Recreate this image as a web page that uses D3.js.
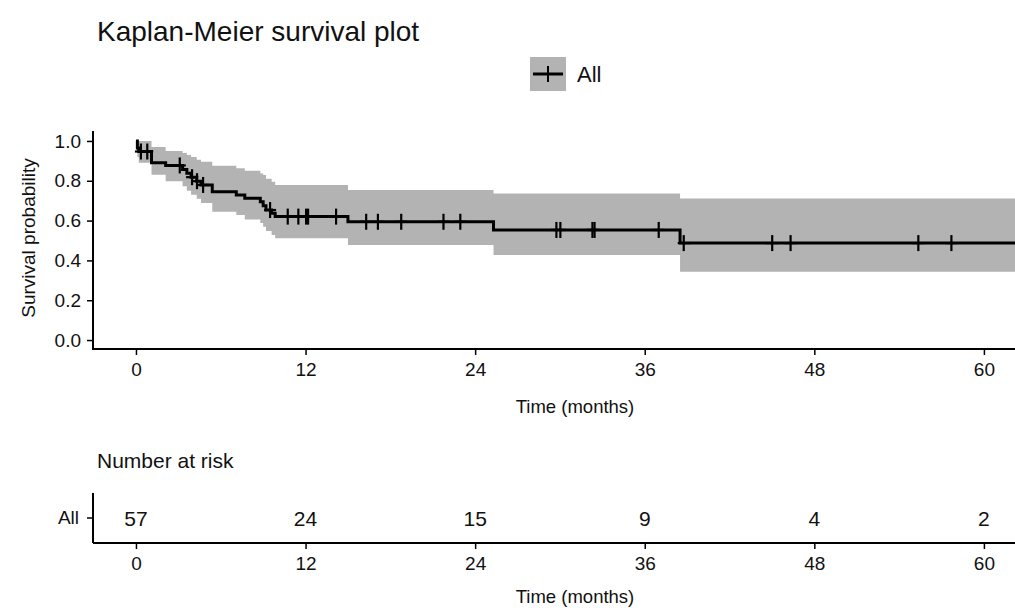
<!DOCTYPE html>
<html>
<head>
<meta charset="utf-8">
<script src="https://cdn.jsdelivr.net/npm/d3@7"></script>
<style>
  html, body { margin: 0; padding: 0; background: #fff; }
  svg { display: block; font-family: "Liberation Sans", Arial, sans-serif; }
</style>
</head>
<body>
<svg id="chart" width="1015" height="612"></svg>
<script>
// ---- data ----
const stepTimes = [0, 0.1, 0.2, 1.1, 2.1, 3.3, 3.6, 3.9, 4.3, 4.6, 5.4, 7.1, 7.7, 8.8, 9.0, 9.2, 9.6, 9.85, 15.0, 25.3, 38.5];
const survival  = [1.0, 0.965, 0.947, 0.89, 0.877, 0.857, 0.838, 0.818, 0.798, 0.779, 0.745, 0.729, 0.712, 0.695, 0.674, 0.653, 0.637, 0.62, 0.594, 0.553, 0.487];
const lowerCI   = [1.0, 0.92, 0.89, 0.83, 0.797, 0.772, 0.75, 0.73, 0.71, 0.688, 0.645, 0.628, 0.605, 0.588, 0.569, 0.548, 0.528, 0.511, 0.477, 0.427, 0.343];
const upperCI   = [1.0, 1.0, 1.0, 0.97, 0.95, 0.94, 0.93, 0.92, 0.905, 0.896, 0.875, 0.863, 0.85, 0.837, 0.829, 0.81, 0.795, 0.779, 0.754, 0.736, 0.711];
const censorTimes = [0.35, 0.8, 3.1, 3.97, 4.32, 4.75, 9.49, 10.74, 11.49, 12.04, 12.18, 14.16, 16.29, 17.12, 18.77, 21.76, 22.95, 29.75, 30.03, 32.3, 32.45, 36.99, 38.76, 45.02, 46.32, 55.36, 57.7];
const xTicks = [0, 12, 24, 36, 48, 60];
const yTicks = [0.0, 0.2, 0.4, 0.6, 0.8, 1.0];
const riskTimes = [0, 12, 24, 36, 48, 60];
const riskAll = [57, 24, 15, 9, 4, 2];
const groupName = "All";

// ---- layout ----
const svg = d3.select("#chart");
const xMin = -3.04, xMax = 62.2;
const x = d3.scaleLinear().domain([xMin, xMax]).range([93, 1015]);
const y = d3.scaleLinear().domain([-0.05, 1.05]).range([350, 131]);
const axisColor = "#000";
const textColor = "#111";

// title
svg.append("text").attr("x", 97).attr("y", 41)
  .attr("font-size", 28).attr("fill", textColor).text("Kaplan-Meier survival plot");

// legend
const lg = svg.append("g");
lg.append("rect").attr("x", 530).attr("y", 57).attr("width", 36).attr("height", 34).attr("fill", "#b3b3b3");
lg.append("line").attr("x1", 533).attr("x2", 563).attr("y1", 74).attr("y2", 74).attr("stroke", "#000").attr("stroke-width", 3);
lg.append("line").attr("x1", 548).attr("x2", 548).attr("y1", 66).attr("y2", 82).attr("stroke", "#000").attr("stroke-width", 2);
lg.append("text").attr("x", 577).attr("y", 82).attr("font-size", 22).attr("fill", textColor).text(groupName);

// data series
const series = stepTimes.map((t, i) => ({ t, s: survival[i], lo: lowerCI[i], up: upperCI[i] }));
const last = series[series.length - 1];
const seriesExt = series.concat([{ t: xMax, s: last.s, lo: last.lo, up: last.up }]);

svg.append("path").datum(seriesExt)
  .attr("d", d3.area().curve(d3.curveStepAfter).x(d => x(d.t)).y0(d => y(d.lo)).y1(d => y(d.up)))
  .attr("fill", "#b3b3b3");

svg.append("path").datum(seriesExt)
  .attr("d", d3.line().curve(d3.curveStepAfter).x(d => x(d.t)).y(d => y(d.s)))
  .attr("fill", "none").attr("stroke", "#000").attr("stroke-width", 3);

const bis = d3.bisector(d => d.t).right;
function survAt(t) { return series[Math.max(0, bis(series, t) - 1)].s; }
const cg = svg.append("g");
censorTimes.forEach(t => {
  const cx = x(t), cy = y(survAt(t));
  cg.append("line").attr("x1", cx).attr("x2", cx).attr("y1", cy - 8).attr("y2", cy + 8).attr("stroke", "#000").attr("stroke-width", 2.2);
  cg.append("line").attr("x1", cx - 6).attr("x2", cx + 6).attr("y1", cy).attr("y2", cy).attr("stroke", "#000").attr("stroke-width", 2.2);
});

// axes main
const xAxis = svg.append("g").attr("transform", "translate(0,349)")
  .call(d3.axisBottom(x).tickValues(xTicks).tickSize(6).tickPadding(8).tickFormat(d3.format("d")));
const yAxis = svg.append("g").attr("transform", "translate(93,0)")
  .call(d3.axisLeft(y).tickValues(yTicks).tickSize(6).tickPadding(6).tickFormat(d3.format(".1f")));
[xAxis, yAxis].forEach(g => {
  g.select(".domain").attr("stroke", axisColor).attr("stroke-width", 2);
  g.selectAll(".tick line").attr("stroke", axisColor).attr("stroke-width", 1.5);
  g.selectAll(".tick text").attr("font-size", 19).attr("fill", textColor).attr("font-family", "Liberation Sans, Arial, sans-serif");
});
xAxis.select(".domain").attr("d", "M93,0H1015");
yAxis.select(".domain").attr("d", "M0,131V350");

svg.append("text").attr("x", 575).attr("y", 413).attr("text-anchor", "middle")
  .attr("font-size", 18.5).attr("fill", textColor).text("Time (months)");
svg.append("text").attr("transform", "translate(35,238) rotate(-90)").attr("text-anchor", "middle")
  .attr("font-size", 19).attr("fill", textColor).text("Survival probability");

// risk table
svg.append("text").attr("x", 97).attr("y", 468).attr("font-size", 21).attr("fill", textColor).text("Number at risk");
const yr = d3.scaleBand().domain([groupName]).range([543, 493]);
const rxAxis = svg.append("g").attr("transform", "translate(0,543)")
  .call(d3.axisBottom(x).tickValues(xTicks).tickSize(6).tickPadding(8).tickFormat(d3.format("d")));
const ryAxis = svg.append("g").attr("transform", "translate(93,0)")
  .call(d3.axisLeft(yr).tickSize(6).tickPadding(8));
[rxAxis, ryAxis].forEach(g => {
  g.select(".domain").attr("stroke", axisColor).attr("stroke-width", 2);
  g.selectAll(".tick line").attr("stroke", axisColor).attr("stroke-width", 1.5);
  g.selectAll(".tick text").attr("font-size", 19).attr("fill", textColor).attr("font-family", "Liberation Sans, Arial, sans-serif");
});
rxAxis.select(".domain").attr("d", "M93,0H1015");
ryAxis.select(".domain").attr("d", "M0,493V543");

svg.append("g").selectAll("text").data(riskTimes).join("text")
  .attr("x", d => x(d)).attr("y", yr(groupName) + yr.bandwidth() / 2 + 7.5)
  .attr("text-anchor", "middle").attr("font-size", 21).attr("fill", textColor)
  .text((d, i) => riskAll[i]);

svg.append("text").attr("x", 575).attr("y", 603).attr("text-anchor", "middle")
  .attr("font-size", 18.5).attr("fill", textColor).text("Time (months)");
</script>
</body>
</html>
